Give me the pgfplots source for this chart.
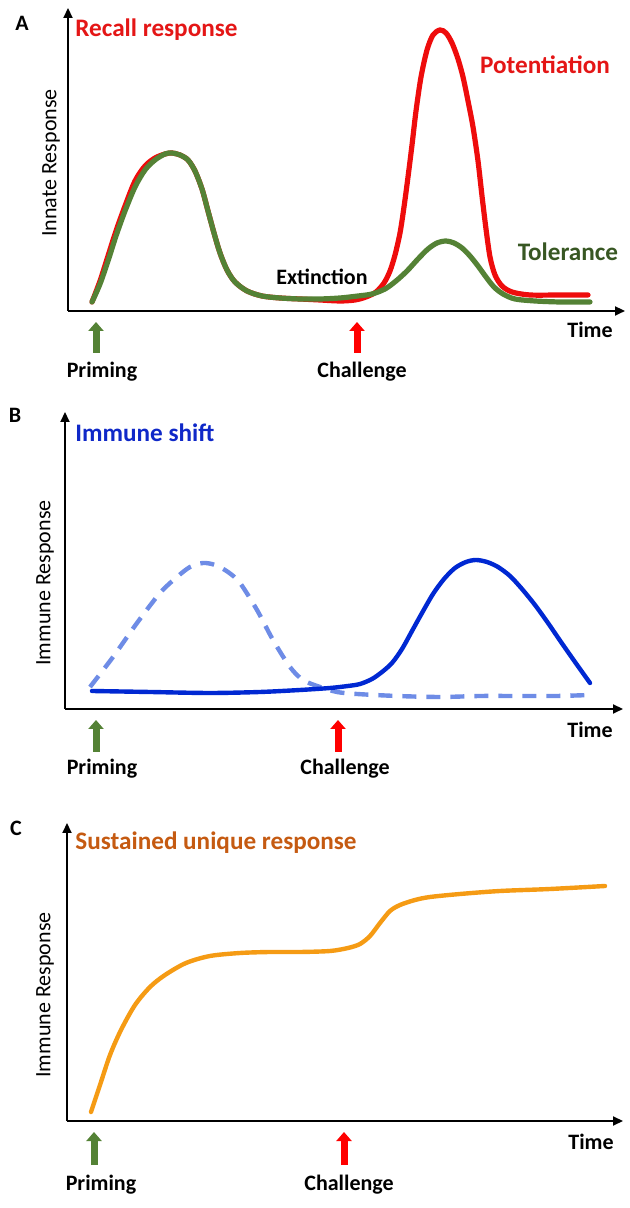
\documentclass[border=0pt]{standalone}
\usepackage{fontspec}
\setmainfont{Carlito}
\usepackage{pgfplots}
\pgfplotsset{compat=1.18}
\usetikzlibrary{arrows.meta}
\definecolor{cred}{RGB}{238,12,12}
\definecolor{tred}{RGB}{228,22,22}
\definecolor{cgreen}{RGB}{84,130,53}
\definecolor{tgreen}{RGB}{56,87,35}
\definecolor{cblue}{RGB}{0,40,210}
\definecolor{lblue}{RGB}{110,140,230}
\definecolor{tblue}{RGB}{15,40,200}
\definecolor{corange}{RGB}{245,155,20}
\definecolor{torange}{RGB}{197,90,17}
\definecolor{aarrowred}{RGB}{255,0,0}
\newcommand{\ttl}{\fontsize{12.6}{14}\selectfont\bfseries}
\newcommand{\lbl}{\fontsize{11}{13}\selectfont\bfseries}
\newcommand{\ylbl}{\fontsize{11}{13}\selectfont}
\tikzset{upar/.style={line width=3.5pt, -{Triangle[length=4.5pt,width=7.5pt]}}}
\begin{document}
\begin{tikzpicture}
\useasboundingbox (0,0) rectangle (315pt,604pt);
\pgfplotsset{panel/.style={scale only axis, anchor=south west, axis lines=left,
  xtick=\empty, ytick=\empty, clip=false,
  axis line style={line width=1pt},
  every outer x axis line/.append style={-{Triangle[length=5pt,width=4.5pt]}},
  every outer y axis line/.append style={-{Triangle[length=5pt,width=4.5pt]}}}}
% ---------------- Panel A
\begin{axis}[panel, at={(34pt,448.5pt)}, width=278.5pt, height=151.5pt,
  xmin=68, xmax=625, ymin=0, ymax=303]
\addplot[cred, line width=2.6pt, smooth, line cap=round] coordinates {
(92,9) (100,30) (108,55) (116,80) (125,105) (135,130) (145,145) (155,153) (165,157)
(172,158) (180,156) (188,151) (195,140) (202,122) (208,100) (214,78) (220,58) (227,41)
(235,29) (247,20) (262,15) (280,13) (300,12) (320,11) (340,10) (355,11) (366,14)
(376,19) (384,28) (390,40) (395,56) (400,78) (404,104) (408,134) (412,166) (416,200)
(421,234) (427,261) (433,276) (440,281) (446,278) (452,268) (458,252) (463,234)
(468,210) (473,184) (478,150) (482,115) (486,82) (490,54) (495,36) (502,25) (512,19)
(530,16) (560,16) (588,16)};
\addplot[cgreen, line width=2.6pt, smooth, line cap=round] coordinates {
(92,9) (100,27) (108,50) (116,75) (125,100) (135,124) (145,141) (155,151) (165,157)
(172,158) (180,156) (188,151) (195,140) (202,122) (208,100) (214,78) (220,58) (227,41)
(235,29) (247,20) (262,15) (280,13) (300,12) (320,12) (340,13) (358,15) (372,17)
(385,22) (396,30) (407,40) (418,52) (428,62) (437,68) (446,70) (454,68) (462,63)
(470,55) (478,45) (486,34) (494,24) (503,17) (515,12) (535,10) (560,9) (590,9)};
\draw[upar, cgreen] (axis cs:96,-42) -- (axis cs:96,-11);
\draw[upar, aarrowred] (axis cs:357,-42) -- (axis cs:357,-11);
\end{axis}
\node[anchor=center, font=\lbl] at (11pt,592.5pt) {A};
\node[anchor=west, inner sep=0pt, font=\ttl, text=tred] at (37.5pt,589pt) {Recall response};
\node[font=\ttl, text=tred] at (272.5pt,571.5pt) {Potentiation};
\node[font=\ttl, text=tgreen] at (284pt,478pt) {Tolerance};
\node[font=\lbl] at (161pt,465.5pt) {Extinction};
\node[font=\ylbl, rotate=90] at (25.5pt,522.5pt) {Innate Response};
\node[font=\lbl] at (295pt,439pt) {Time};
\node[font=\lbl] at (51pt,418pt) {Priming};
\node[font=\lbl] at (181pt,418pt) {Challenge};
% ---------------- Panel B
\begin{axis}[panel, at={(32.5pt,249.5pt)}, width=279pt, height=148.5pt,
  xmin=65, xmax=623, ymin=0, ymax=297]
\addplot[lblue, line width=2.2pt, smooth, dash pattern=on 7pt off 5pt] coordinates {
(90,22) (113,52) (137,86) (160,116) (177,132) (190,142) (203,146) (215,144) (228,137)
(240,126) (257,99) (273,69) (290,42) (303,29) (320,22) (337,17) (357,15) (397,13)
(440,12) (480,13) (517,13) (557,13) (590,14)};
\addplot[cblue, line width=2.2pt, smooth, line cap=round] coordinates {
(92,18) (150,17) (210,16) (260,17) (300,19) (330,21) (348,23) (360,25) (372,30)
(382,37) (392,46) (402,60) (412,78) (422,96) (433,115) (444,130) (455,141) (466,147)
(476,149) (487,147) (498,142) (510,133) (522,120) (535,104) (548,86) (561,67)
(575,47) (590,26)};
\draw[upar, cgreen] (axis cs:96,-43) -- (axis cs:96,-11);
\draw[upar, aarrowred] (axis cs:338,-43) -- (axis cs:338,-11);
\end{axis}
\node[font=\lbl] at (7.5pt,396.5pt) {B};
\node[anchor=west, inner sep=0pt, font=\ttl, text=tblue] at (37.5pt,387.5pt) {Immune shift};
\node[font=\ylbl, rotate=90] at (22.5pt,312.5pt) {Immune Response};
\node[font=\lbl] at (295pt,239pt) {Time};
\node[font=\lbl] at (51pt,219.5pt) {Priming};
\node[font=\lbl] at (172.5pt,219.5pt) {Challenge};
% ---------------- Panel C
\begin{axis}[panel, at={(33.5pt,43.5pt)}, width=278pt, height=149pt,
  xmin=67, xmax=623, ymin=0, ymax=298]
\addplot[corange, line width=2.2pt, smooth, line cap=round] coordinates {
(91,9) (100,36) (110,66) (121,91) (135,116) (150,134) (165,146) (186,158) (210,165)
(240,168) (270,169) (300,169) (330,170) (348,173) (360,177) (370,185) (380,198)
(390,210) (400,216) (415,221) (430,224) (460,227) (500,230) (550,232) (605,235)};
\draw[upar, cgreen] (axis cs:94,-44) -- (axis cs:94,-11);
\draw[upar, aarrowred] (axis cs:344,-44) -- (axis cs:344,-11);
\end{axis}
\node[font=\lbl] at (8pt,190pt) {C};
\node[anchor=west, inner sep=0pt, font=\ttl, text=torange] at (37.5pt,182.5pt) {Sustained unique response};
\node[font=\ylbl, rotate=90] at (22.5pt,106.5pt) {Immune Response};
\node[font=\lbl] at (295.5pt,33pt) {Time};
\node[font=\lbl] at (50.5pt,11.5pt) {Priming};
\node[font=\lbl] at (174.5pt,11.5pt) {Challenge};
\end{tikzpicture}
\end{document}
